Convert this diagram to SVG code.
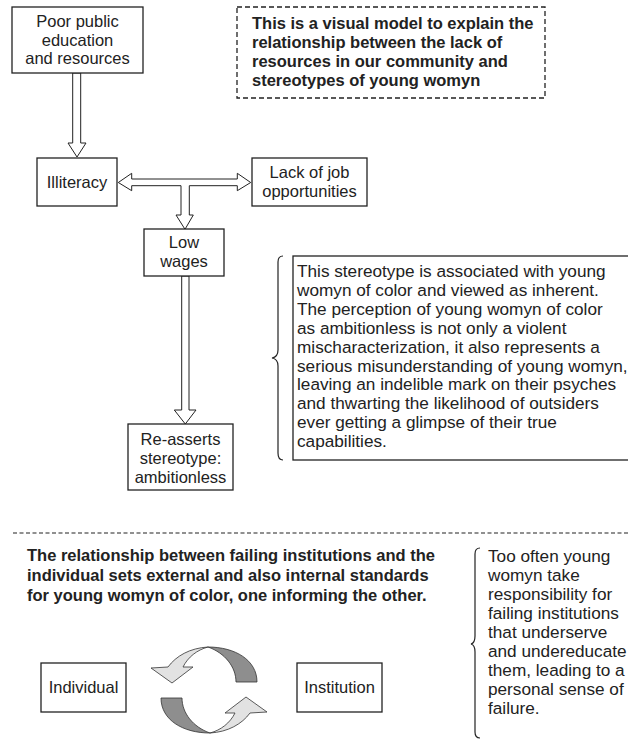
<svg xmlns="http://www.w3.org/2000/svg" width="628" height="743" viewBox="0 0 628 743">
<style>
  .box{fill:#fff;stroke:#222;stroke-width:1.3}
  .dash{fill:none;stroke:#222;stroke-width:1.3;stroke-dasharray:5,3}
  .arr{fill:#fff;stroke:#222;stroke-width:1;stroke-linejoin:miter}
  .brace{fill:none;stroke:#222;stroke-width:1.2}
  .t{font-family:"Liberation Sans",Arial,sans-serif;font-size:16.5px;fill:#222}
  .p{font-size:17.2px}
  .c{text-anchor:middle}
  .b{font-weight:bold}
  .light{fill:#e2e2e2;stroke:#333;stroke-width:0.8}
  .dark{fill:#8e8e8e;stroke:#333;stroke-width:0.8}
</style>
<rect width="628" height="743" fill="#fff"/>

<g id="connectors">
  <polygon class="arr" points="72.7,73 80.7,73 80.7,143 86,143 77,157 68,143 72.7,143"/>
  <polygon class="arr" points="118.3,182.5 131.7,173.3 131.7,179 237.3,179 237.3,173.3 250.7,182.5 237.3,190.7 237.3,185.7 189.3,185.7 189.3,215 193.3,215 185,229.3 176,215 181,215 181,185.7 131.7,185.7 131.7,190.7"/>
  <polygon class="arr" points="181.7,276 189,276 189,410 196,410 185.3,424 174.3,410 181.7,410"/>
</g>

<g id="note-top">
  <rect class="dash" x="237" y="7" width="308" height="91"/>
  <text class="t b" x="252" y="28.5">This is a visual model to explain the</text>
  <text class="t b" x="252" y="47.5">relationship between the lack of</text>
  <text class="t b" x="252" y="66.5">resources in our community and</text>
  <text class="t b" x="252" y="85.5">stereotypes of young womyn</text>
</g>

<g id="node-poor">
  <rect class="box" x="12" y="7" width="131" height="66"/>
  <text class="t c" x="77.5" y="27.3">Poor public</text>
  <text class="t c" x="77.5" y="45.7">education</text>
  <text class="t c" x="77.5" y="64.3">and resources</text>
</g>

<g id="node-illiteracy">
  <rect class="box" x="37" y="158" width="80" height="48"/>
  <text class="t c" x="77" y="188.3">Illiteracy</text>
</g>

<g id="node-lackjob">
  <rect class="box" x="252" y="158" width="115" height="48"/>
  <text class="t c" x="309.5" y="177.7">Lack of job</text>
  <text class="t c" x="309.5" y="196.7">opportunities</text>
</g>

<g id="node-lowwages">
  <rect class="box" x="144" y="229" width="80" height="47"/>
  <text class="t c" x="184" y="248.3">Low</text>
  <text class="t c" x="184" y="267.3">wages</text>
</g>

<g id="node-reasserts">
  <rect class="box" x="128" y="424" width="105" height="66"/>
  <text class="t c" x="180.5" y="445">Re-asserts</text>
  <text class="t c" x="180.5" y="464">stereotype:</text>
  <text class="t c" x="180.5" y="483">ambitionless</text>
</g>

<g id="note-stereotype">
  <path class="brace" d="M283,256 Q278,256 278,262 L278,350 Q278,357 272,358 Q278,359 278,366 L278,453 Q278,460 283,460"/>
  <rect class="box" x="293" y="256" width="340" height="204"/>
  <text class="t p" x="297" y="277.3">This stereotype is associated with young</text>
  <text class="t p" x="297" y="296.1">womyn of color and viewed as inherent.</text>
  <text class="t p" x="297" y="315">The perception of young womyn of color</text>
  <text class="t p" x="297" y="333.8">as ambitionless is not only a violent</text>
  <text class="t p" x="297" y="352.7">mischaracterization, it also represents a</text>
  <text class="t p" x="297" y="371.5">serious misunderstanding of young womyn,</text>
  <text class="t p" x="297" y="390.4">leaving an indelible mark on their psyches</text>
  <text class="t p" x="297" y="409.2">and thwarting the likelihood of outsiders</text>
  <text class="t p" x="297" y="428.1">ever getting a glimpse of their true</text>
  <text class="t p" x="297" y="446.9">capabilities.</text>
</g>

<line x1="13" y1="533" x2="628" y2="533" stroke="#222" stroke-width="1.2" stroke-dasharray="4,2.5"/>

<g id="note-relationship">
  <text class="t b" x="27" y="561">The relationship between failing institutions and the</text>
  <text class="t b" x="27" y="581">individual sets external and also internal standards</text>
  <text class="t b" x="27" y="601">for young womyn of color, one informing the other.</text>
</g>

<g id="node-individual">
  <rect class="box" x="41" y="663" width="85" height="49"/>
  <text class="t c" x="83.5" y="693">Individual</text>
</g>

<g id="cycle">
  <g id="cycle-top">
    <path class="dark" d="M208,647 C235,647 257,660 257,682 L236,682 C236,667 225,653 208,647 Z"/>
    <path class="light" d="M208,647 C190,648 176,656 168,667 L151,668 L172,683 L193,667 L183,667 C188,657 197,650 208,647 Z"/>
  </g>
  <g id="cycle-bottom" transform="rotate(180 209 690)">
    <path class="dark" d="M208,647 C235,647 257,660 257,682 L236,682 C236,667 225,653 208,647 Z"/>
    <path class="light" d="M208,647 C190,648 176,656 168,667 L151,668 L172,683 L193,667 L183,667 C188,657 197,650 208,647 Z"/>
  </g>
</g>

<g id="node-institution">
  <rect class="box" x="297" y="663" width="85" height="49"/>
  <text class="t c" x="339.5" y="693">Institution</text>
</g>

<g id="note-responsibility">
  <path class="brace" d="M480,548 Q475,548 475,554 L475,636 Q475,643 471,644 Q475,645 475,652 L475,732 Q475,738 480,738"/>
  <text class="t p" x="488" y="562">Too often young</text>
  <text class="t p" x="488" y="581">womyn take</text>
  <text class="t p" x="488" y="600">responsibility for</text>
  <text class="t p" x="488" y="619">failing institutions</text>
  <text class="t p" x="488" y="638">that underserve</text>
  <text class="t p" x="488" y="657">and undereducate</text>
  <text class="t p" x="488" y="676">them, leading to a</text>
  <text class="t p" x="488" y="695">personal sense of</text>
  <text class="t p" x="488" y="714">failure.</text>
</g>
</svg>
